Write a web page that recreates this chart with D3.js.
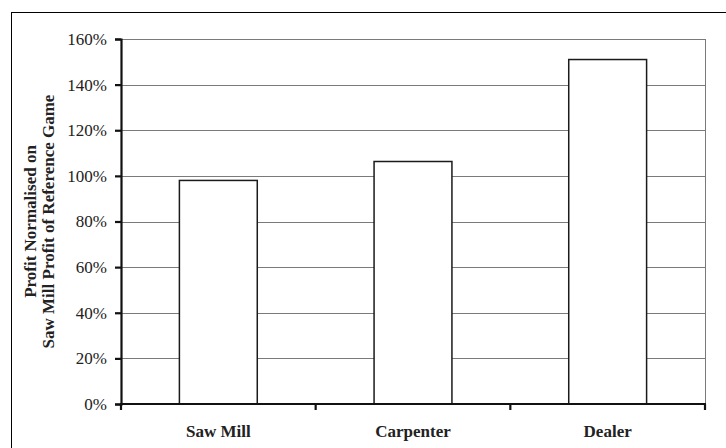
<!DOCTYPE html>
<html>
<head>
<meta charset="utf-8">
<script src="https://cdn.jsdelivr.net/npm/d3@7"></script>
<style>
  html, body { margin: 0; padding: 0; background: #fff; }
  svg { display: block; }
</style>
</head>
<body>
<script>
// Normalised profit per role (fraction of the reference game's saw mill profit)
const categories = ["Saw Mill", "Carpenter", "Dealer"];
const profits = [0.98, 1.063, 1.51];
const yTicks = [0, 0.2, 0.4, 0.6, 0.8, 1.0, 1.2, 1.4, 1.6];
const yTitleLines = ["Profit Normalised on", "Saw Mill Profit of Reference Game"];

const W = 726, H = 448;
const margin = { left: 121, right: 21, top: 39, bottom: 44 };

const svg = d3.select("body").append("svg")
  .attr("width", W).attr("height", H);

// outer frame
svg.append("rect")
  .attr("x", 11.5).attr("y", 12.5)
  .attr("width", W).attr("height", H)
  .attr("fill", "none").attr("stroke", "#000").attr("stroke-width", 1);

const x = d3.scaleBand()
  .domain(categories)
  .range([margin.left, W - margin.right])
  .paddingInner(0.6).paddingOuter(0.3);

const y = d3.scaleLinear()
  .domain([0, 1.6])
  .range([H - margin.bottom, margin.top]);

const serif = "'Liberation Serif', 'Times New Roman', serif";

// gridlines
svg.append("g")
  .selectAll("line")
  .data(yTicks.filter(d => d > 0))
  .join("line")
  .attr("x1", margin.left).attr("x2", W - margin.right)
  .attr("y1", d => Math.round(y(d)) + 0.5).attr("y2", d => Math.round(y(d)) + 0.5)
  .attr("stroke", "#7a7a7a").attr("stroke-width", 1);

// right edge of plot area
svg.append("line")
  .attr("x1", W - margin.right + 0.5).attr("x2", W - margin.right + 0.5)
  .attr("y1", margin.top).attr("y2", H - margin.bottom)
  .attr("stroke", "#7a7a7a").attr("stroke-width", 1);

// bars
svg.append("g")
  .selectAll("rect")
  .data(categories.map((c, i) => ({ c, v: profits[i] })))
  .join("rect")
  .attr("x", d => x(d.c))
  .attr("width", x.bandwidth())
  .attr("y", d => y(d.v))
  .attr("height", d => y(0) - y(d.v))
  .attr("fill", "#fff").attr("stroke", "#1a1a1a").attr("stroke-width", 1.5);

// y axis
const yAxis = svg.append("g")
  .attr("transform", `translate(${margin.left},0)`)
  .call(d3.axisLeft(y).tickValues(yTicks).tickFormat(d3.format(".0%")).tickSize(6).tickPadding(8));
yAxis.select(".domain").attr("stroke", "#111").attr("stroke-width", 2.2);
yAxis.selectAll(".tick line").attr("stroke", "#111").attr("stroke-width", 2.2);
yAxis.selectAll(".tick text")
  .attr("font-family", serif).attr("font-size", 17).attr("fill", "#222");

// x axis with ticks at category boundaries
const xAxisG = svg.append("g")
  .attr("transform", `translate(0,${y(0)})`);
const step = (W - margin.right - margin.left) / categories.length;
const boundaries = d3.range(categories.length + 1).map(i => margin.left + i * step);
xAxisG.append("line")
  .attr("x1", margin.left - 1).attr("x2", W - margin.right + 1)
  .attr("stroke", "#111").attr("stroke-width", 2.2);
xAxisG.selectAll("line.tk")
  .data(boundaries)
  .join("line").attr("class", "tk")
  .attr("x1", d => d).attr("x2", d => d)
  .attr("y1", 0).attr("y2", 6)
  .attr("stroke", "#111").attr("stroke-width", 2.2);
xAxisG.selectAll("text")
  .data(categories)
  .join("text")
  .attr("x", d => x(d) + x.bandwidth() / 2)
  .attr("y", 33)
  .attr("text-anchor", "middle")
  .attr("font-family", serif).attr("font-size", 17).attr("font-weight", "bold")
  .attr("fill", "#222")
  .text(d => d);

// y axis title
const cy = (y(0) + y(1.6)) / 2;
svg.append("text")
  .attr("transform", `translate(36,${cy}) rotate(-90)`)
  .attr("text-anchor", "middle")
  .attr("font-family", serif).attr("font-size", 17).attr("font-weight", "bold")
  .attr("fill", "#222")
  .selectAll("tspan")
  .data(yTitleLines)
  .join("tspan")
  .attr("x", 0).attr("dy", (d, i) => i === 0 ? 0 : 18)
  .text(d => d);
</script>
</body>
</html>
